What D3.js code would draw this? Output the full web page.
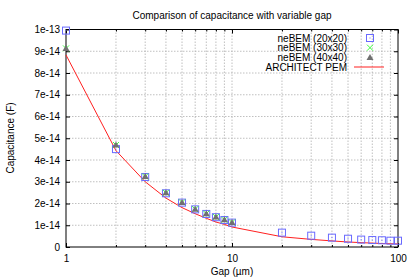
<!DOCTYPE html>
<html><head><meta charset="utf-8">
<script src="https://cdn.jsdelivr.net/npm/d3@7"></script>
<style>body{margin:0;background:#fff}svg{display:block;font-family:"Liberation Sans",Arial,sans-serif}</style>
</head><body><svg id="c" width="415" height="277"></svg>
<script>
const gap20 = [1,2,3,4,5,6,7,8,9,10,20,30,40,50,60,70,80,90,100];
const cap20 = [9.95e-14,4.50e-14,3.22e-14,2.47e-14,2.04e-14,1.73e-14,1.52e-14,1.37e-14,1.24e-14,1.12e-14,0.66e-14,0.52e-14,0.43e-14,0.38e-14,0.34e-14,0.32e-14,0.31e-14,0.29e-14,0.29e-14];
const gap30 = [1,2,3,4,5,6,7,8,9,10];
const cap30 = [9.13e-14,4.69e-14,3.24e-14,2.49e-14,2.05e-14,1.74e-14,1.53e-14,1.38e-14,1.25e-14,1.13e-14];
const gap40 = [1,2,3,4,5,6,7,8,9,10];
const cap40 = [9.13e-14,4.69e-14,3.24e-14,2.49e-14,2.05e-14,1.74e-14,1.53e-14,1.38e-14,1.25e-14,1.13e-14];
const gapPEM = [1,2,3,4,5,6,7,8,9,10,20,30,40,50,60,70,80,90,100];
const capPEM = [8.83e-14,4.43e-14,3.0e-14,2.25e-14,1.81e-14,1.53e-14,1.32e-14,1.15e-14,1.04e-14,0.92e-14,0.47e-14,0.35e-14,0.28e-14,0.23e-14,0.20e-14,0.18e-14,0.16e-14,0.15e-14,0.14e-14];
const yTicks = [0,1e-14,2e-14,3e-14,4e-14,5e-14,6e-14,7e-14,8e-14,9e-14,1e-13];
const yTickLabels = ["0","1e-14","2e-14","3e-14","4e-14","5e-14","6e-14","7e-14","8e-14","9e-14","1e-13"];
const xMajor = [1,10,100];
const xMinor = [2,3,4,5,6,7,8,9,20,30,40,50,60,70,80,90];
const seriesNames = ["neBEM (20x20)","neBEM (30x30)","neBEM (40x40)","ARCHITECT PEM"];

const svg = d3.select("#c");
const L=66, R=398, T=29.5, B=247;
const x = d3.scaleLog().domain([1,100]).range([L,R]);
const y = d3.scaleLinear().domain([0,1e-13]).range([B,T]);
const fs = "10px";

// grid
const grid = svg.append("g").attr("stroke","#b0b0b0").attr("stroke-width",0.8).attr("stroke-dasharray","1.5,1.5");
yTicks.slice(1,-1).forEach(v=>grid.append("line").attr("x1",L).attr("x2",R).attr("y1",y(v)).attr("y2",y(v)));
xMajor.slice(1,-1).concat(xMinor).forEach(v=>grid.append("line").attr("x1",x(v)).attr("x2",x(v)).attr("y1",T).attr("y2",B));

// axes
const ax = svg.append("g").attr("font-size",fs).attr("fill","#000");
const yAx = d3.axisLeft(y).tickValues(yTicks).tickFormat((d,i)=>yTickLabels[i]).tickSizeInner(-4).tickSizeOuter(0).tickPadding(6);
ax.append("g").attr("transform",`translate(${L},0)`).call(yAx);
const yAxR = d3.axisRight(y).tickValues(yTicks).tickFormat("").tickSizeInner(-4).tickSizeOuter(0);
ax.append("g").attr("transform",`translate(${R},0)`).call(yAxR);
const xAx = d3.axisBottom(x).tickValues(xMajor).tickFormat(d=>String(d)).tickSizeInner(-4).tickSizeOuter(0).tickPadding(8);
ax.append("g").attr("transform",`translate(0,${B})`).call(xAx);
ax.append("g").attr("transform",`translate(0,${B})`).call(d3.axisBottom(x).tickValues(xMinor).tickFormat("").tickSizeInner(-2).tickSizeOuter(0));
ax.append("g").attr("transform",`translate(0,${T})`).call(d3.axisTop(x).tickValues(xMajor).tickFormat("").tickSizeInner(-4).tickSizeOuter(0));
ax.append("g").attr("transform",`translate(0,${T})`).call(d3.axisTop(x).tickValues(xMinor).tickFormat("").tickSizeInner(-2).tickSizeOuter(0));
ax.selectAll(".domain").remove();
ax.selectAll("text").attr("font-family","'Liberation Sans',Arial,sans-serif").attr("font-size",fs).attr("fill","#000");
ax.selectAll("line").attr("stroke","#000");
svg.append("rect").attr("x",L).attr("y",T).attr("width",R-L).attr("height",B-T).attr("fill","none").attr("stroke","#000").attr("stroke-width",1);

// line
svg.append("path").datum(gapPEM.map((g,i)=>[g,capPEM[i]]))
  .attr("d",d3.line().x(d=>x(d[0])).y(d=>y(d[1])))
  .attr("fill","none").attr("stroke","#ff2020").attr("stroke-width",1);

const sqColor="#6a6aff", xColor="#40ff40", triColor="#707070";
function square(g,cx,cy){g.append("rect").attr("x",cx-3.5).attr("y",cy-3.5).attr("width",7).attr("height",7).attr("fill","none").attr("stroke",sqColor).attr("stroke-width",1);
  g.append("rect").attr("x",cx-0.5).attr("y",cy-0.5).attr("width",1).attr("height",1).attr("fill",sqColor);}
function cross(g,cx,cy){g.append("path").attr("d",`M${cx-3},${cy-3}L${cx+3},${cy+3}M${cx-3},${cy+3}L${cx+3},${cy-3}`).attr("stroke",xColor).attr("stroke-width",1);}
function tri(g,cx,cy){g.append("path").attr("d",`M${cx},${cy-3.5}L${cx+3.5},${cy+2.5}L${cx-3.5},${cy+2.5}Z`).attr("fill",triColor);}

const pts = svg.append("g");
gap20.forEach((g,i)=>square(pts,x(g),y(cap20[i])));
gap30.forEach((g,i)=>cross(pts,x(g),y(cap30[i])));
gap40.forEach((g,i)=>tri(pts,x(g),y(cap40[i])));

// legend
const lg = svg.append("g").attr("font-size",fs);
const rowsY=[38,47.7,57.4,67];
seriesNames.forEach((n,i)=>{
  lg.append("text").attr("x",347).attr("y",rowsY[i]).attr("dy","0.35em").attr("text-anchor","end").text(n);
});
square(lg,370,rowsY[0]); cross(lg,370,rowsY[1]); tri(lg,370,rowsY[2]);
lg.append("line").attr("x1",354).attr("x2",384).attr("y1",rowsY[3]).attr("y2",rowsY[3]).attr("stroke","#ff2020").attr("stroke-width",1);

// titles
svg.append("text").attr("x",232).attr("y",15).attr("dy","0.35em").attr("text-anchor","middle").attr("font-size",fs).text("Comparison of capacitance with variable gap");
svg.append("text").attr("x",232).attr("y",271).attr("dy","0.35em").attr("text-anchor","middle").attr("font-size",fs).text("Gap (\u00b5m)");
svg.append("text").attr("transform","translate(10,138) rotate(-90)").attr("dy","0.35em").attr("text-anchor","middle").attr("font-size",fs).text("Capacitance (F)");
</script></body></html>
